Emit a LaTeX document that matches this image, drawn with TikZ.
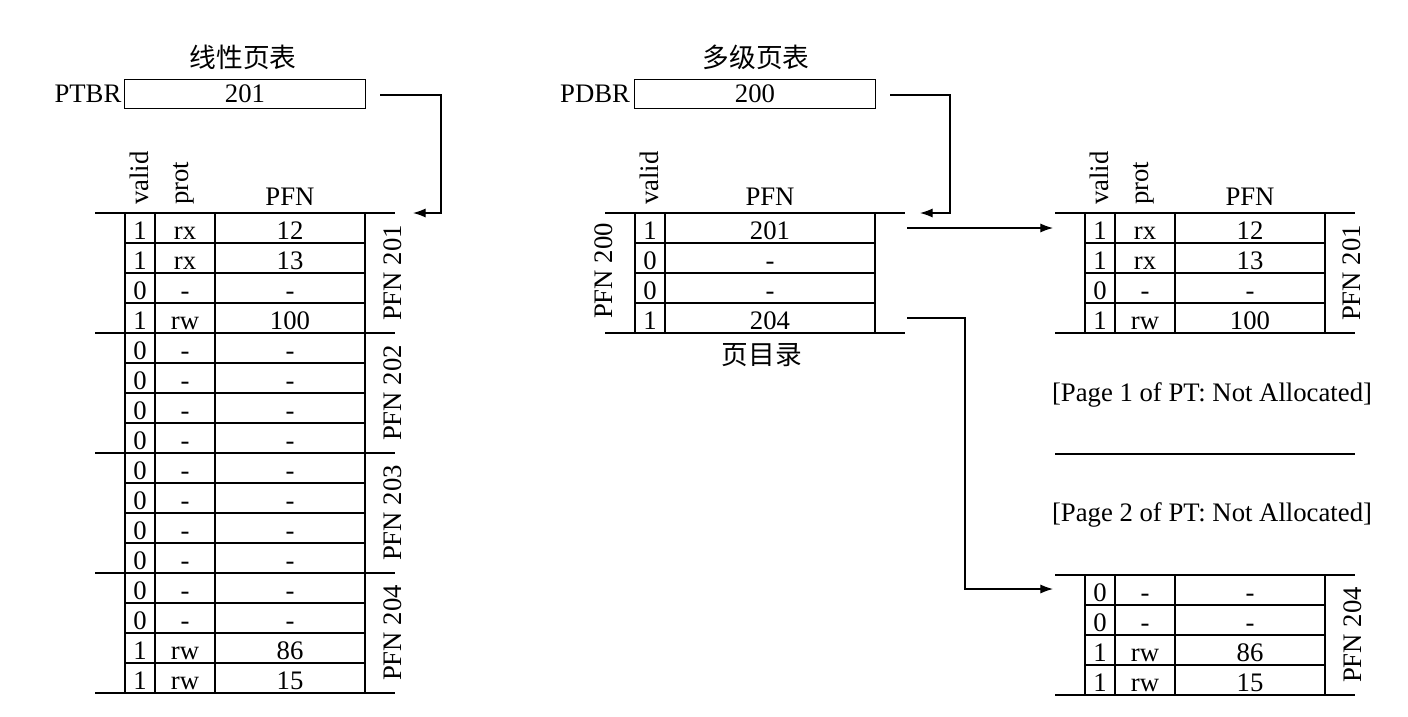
\documentclass[tikz,border=0pt]{standalone}
\usepackage{fontspec}
\setmainfont{Liberation Serif}
\newfontfamily\cjk{Noto Sans CJK SC}
\usetikzlibrary{arrows.meta, positioning, calc}

\begin{document}
\begin{tikzpicture}[
      x=0.025cm, y=-0.025cm,
      lbl/.style={font=\fontsize{19}{22}\selectfont, inner sep=0pt},
      title/.style={lbl, font=\fontsize{19}{22}\selectfont\cjk},
      cell/.style={lbl, anchor=base},
      head/.style={lbl, rotate=90, anchor=west},
      side/.style={lbl, rotate=90},
      reg/.style={lbl, draw, line width=0.7pt,
                  minimum width=6cm, minimum height=0.725cm},
      rule/.style={line width=1.5pt},
      grid/.style={line width=0.75pt},
      ptr/.style={-{Latex[length=9pt, width=6.5pt]}, line width=0.85pt},
  ]
  \useasboundingbox (0,0) rectangle (1408,717);

  % registers
  \node[title] (lintitle) at (243,57) {线性页表};
  \node[reg] (ptbr) at (245,93.5) {201};
  \node[lbl, left=2pt of ptbr] (ptbrlab) {PTBR};

  \node[title] (mltitle) at (756,57) {多级页表};
  \node[reg] (pdbr) at (755,93.5) {200};
  \node[lbl, left=3pt of pdbr] (pdbrlab) {PDBR};

  % linear page table
  \begin{scope}[shift={(95,213)}]
    \node[head] (lin-valid) at (44,-8) {valid};
    \node[head] (lin-prot) at (89,-8) {prot};
    \node[cell] (lin-pfn) at (195,-8) {PFN};
    \foreach \cv/\cp/\cf [count=\i from 0] in {1/rx/12, 1/rx/13, 0/-/-, 1/rw/100,
        0/-/-, 0/-/-, 0/-/-, 0/-/-, 0/-/-, 0/-/-, 0/-/-, 0/-/-,
        0/-/-, 0/-/-, 1/rw/86, 1/rw/15} {
      \node[cell] (lin-v\i) at (45,30*\i+26) {\cv};
      \node[cell] (lin-p\i) at (90,30*\i+26) {\cp};
      \node[cell] (lin-f\i) at (195,30*\i+26) {\cf};
    }
    \foreach \i in {1,...,15} \draw[grid] (30,30*\i) -- (270,30*\i);
    \foreach \i in {0,4,8,12,16} \draw[rule] (0,30*\i) -- (300,30*\i);
    \foreach \x in {30,60,120,270} \draw[grid] (\x,0) -- (\x,480);
    \foreach \k/\n in {0/201, 1/202, 2/203, 3/204}
      \node[side] (lin-s\n) at (298,120*\k+60) {PFN \n};
  \end{scope}

  % page directory
  \begin{scope}[shift={(605,213)}]
    \node[head] (dir-valid) at (44,-8) {valid};
    \node[cell] (dir-pfn) at (165,-8) {PFN};
    \foreach \cv/\cf [count=\i from 0] in {1/201, 0/-, 0/-, 1/204} {
      \node[cell] (dir-v\i) at (45,30*\i+26) {\cv};
      \node[cell] (dir-f\i) at (165,30*\i+26) {\cf};
    }
    \foreach \i in {1,2,3} \draw[grid] (30,30*\i) -- (270,30*\i);
    \foreach \i in {0,4} \draw[rule] (0,30*\i) -- (300,30*\i);
    \foreach \x in {30,60,270} \draw[grid] (\x,0) -- (\x,120);
    \node[side] (dir-side) at (-1,58) {PFN 200};
    \node[title] (dirname) at (157,142) {页目录};
  \end{scope}

  % page of PT at PFN 201
  \begin{scope}[shift={(1055,213)}]
    \node[head] (pta-valid) at (44,-8) {valid};
    \node[head] (pta-prot) at (89,-8) {prot};
    \node[cell] (pta-pfn) at (195,-8) {PFN};
    \foreach \cv/\cp/\cf [count=\i from 0] in {1/rx/12, 1/rx/13, 0/-/-, 1/rw/100} {
      \node[cell] (pta-v\i) at (45,30*\i+26) {\cv};
      \node[cell] (pta-p\i) at (90,30*\i+26) {\cp};
      \node[cell] (pta-f\i) at (195,30*\i+26) {\cf};
    }
    \foreach \i in {1,2,3} \draw[grid] (30,30*\i) -- (270,30*\i);
    \foreach \i in {0,4} \draw[rule] (0,30*\i) -- (300,30*\i);
    \foreach \x in {30,60,120,270} \draw[grid] (\x,0) -- (\x,120);
    \node[side] (pta-side) at (297,60) {PFN 201};
  \end{scope}

  \node[lbl] (page1) at (1212,395) {[Page 1 of PT: Not Allocated]};
  \draw[rule] (1055,454) -- (1355,454);
  \node[lbl] (page2) at (1212,515) {[Page 2 of PT: Not Allocated]};

  % page of PT at PFN 204
  \begin{scope}[shift={(1055,575)}]
    \foreach \cv/\cp/\cf [count=\i from 0] in {0/-/-, 0/-/-, 1/rw/86, 1/rw/15} {
      \node[cell] (ptb-v\i) at (45,30*\i+26) {\cv};
      \node[cell] (ptb-p\i) at (90,30*\i+26) {\cp};
      \node[cell] (ptb-f\i) at (195,30*\i+26) {\cf};
    }
    \foreach \i in {1,2,3} \draw[grid] (30,30*\i) -- (270,30*\i);
    \foreach \i in {0,4} \draw[rule] (0,30*\i) -- (300,30*\i);
    \foreach \x in {30,60,120,270} \draw[grid] (\x,0) -- (\x,120);
    \node[side] (ptb-side) at (298,60) {PFN 204};
  \end{scope}

  % pointers
  \coordinate (ptbrout) at (380,95);
  \coordinate (linin) at (413,213);
  \draw[ptr] (ptbrout) -- ++(61,0) |- (linin);

  \coordinate (pdbrout) at (890,95);
  \coordinate (dirin) at (920,213);
  \draw[ptr] (pdbrout) -- ++(60,0) |- (dirin);

  \coordinate (dirout1) at (907,228);
  \coordinate (ptain) at (1053,228);
  \draw[ptr] (dirout1) -- (ptain);

  \coordinate (dirout4) at (907,318);
  \coordinate (ptbin) at (1053,589);
  \draw[ptr] (dirout4) -- ++(58,0) |- (ptbin);
\end{tikzpicture}
\end{document}
